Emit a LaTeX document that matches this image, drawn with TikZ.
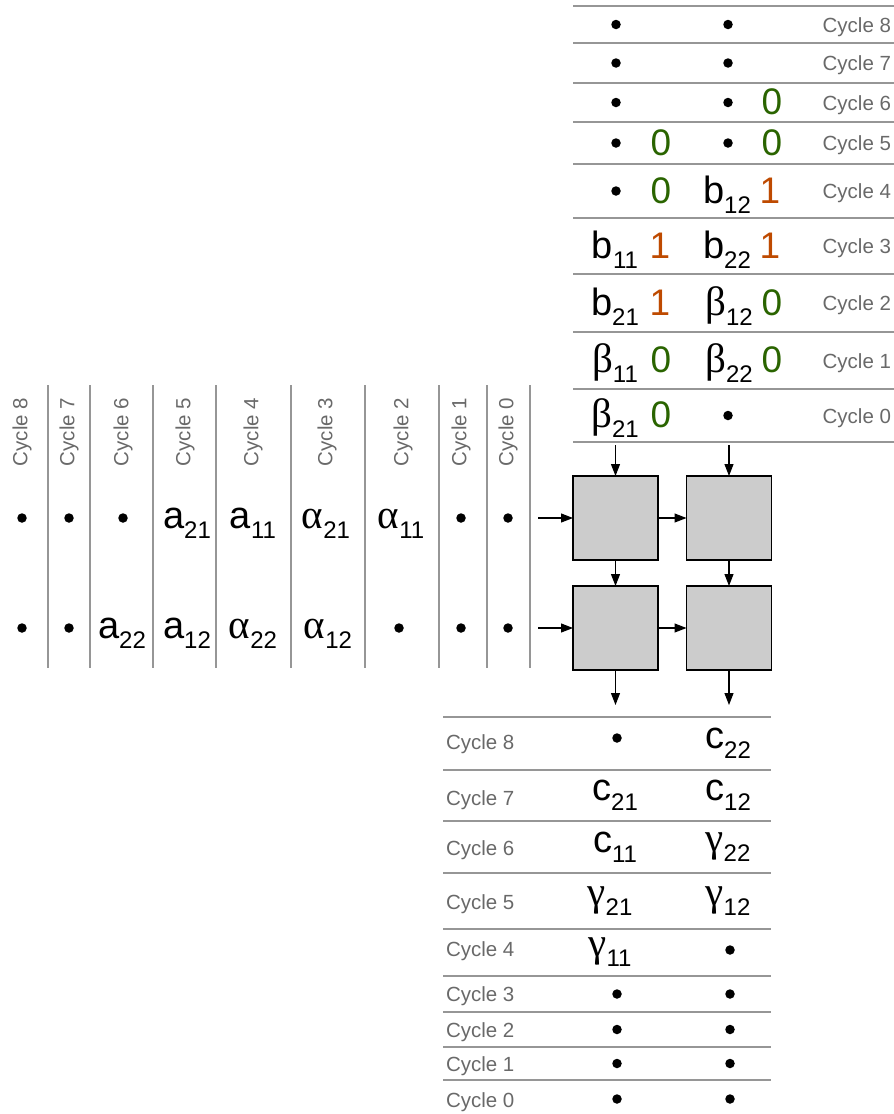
\documentclass[tikz,border=0pt]{standalone}
\usepackage{fontspec}
\setmainfont{Liberation Sans}
\newfontfamily\greekfont{Liberation Serif}
\usetikzlibrary{arrows.meta}

\definecolor{zerogreen}{RGB}{42,100,0}
\definecolor{oneorange}{RGB}{190,74,0}
\definecolor{labelgray}{RGB}{105,105,105}
\definecolor{rulegray}{RGB}{150,150,150}
\definecolor{pefill}{RGB}{204,204,204}

% value with lowered index
\newcommand{\ent}[2]{#1\raisebox{-10pt}{\fontsize{24}{24}\selectfont #2}}
\newcommand{\gr}[1]{{\greekfont\fontsize{41}{41}\selectfont #1}}

\begin{document}
\begin{tikzpicture}[x=1pt, y=-1pt,
	every node/.style={inner sep=0pt, outer sep=0pt},
	cyc/.style={font=\fontsize{20.5}{20.5}\selectfont, text=labelgray},
	entry/.style={anchor=base, font=\fontsize{38}{38}\selectfont},
	zero/.style={entry, text=zerogreen, font=\fontsize{37}{37}\selectfont},
	one/.style={entry, text=oneorange, font=\fontsize{37}{37}\selectfont},
	blob/.style={circle, fill=black, minimum size=9.5pt},
	gridline/.style={draw=rulegray, line width=1.2pt},
	pe/.style={draw, fill=pefill, line width=1.1pt, minimum width=85pt, minimum height=84pt},
	link/.style={-{Triangle[length=12pt,width=9pt]}, line width=1.1pt}]
	\useasboundingbox (0,0) rectangle (894,1114);

	% Top table (B)
	\foreach \y in {6,43,83,122,164,218,274,332,389,442}
		\draw[gridline] (573,\y) -- (894,\y);
	\foreach \c/\y in {8/32,7/70.5,6/110,5/150.5,4/198.5,3/253.5,2/310.5,1/368,0/423}
		\node[cyc, anchor=base east] (tl\c) at (891,\y) {Cycle \c};
	\foreach \n/\x/\y in {a/616/24.5,b/728/24.5,c/616/63,d/728/63,e/616/102.5,f/728/102.5,
		g/616/143,h/728/143,i/616/191,j/728/415.5}
		\node[blob] (td\n) at (\x,\y) {};
	\node[zero] (tz6b) at (772,114.5) {0};
	\node[zero] (tz5a) at (661,155) {0};
	\node[zero] (tz5b) at (772,155) {0};
	\node[zero] (tz4a) at (661,203) {0};
	\node[one] (to4b) at (770,203) {1};
	\node[entry] (b12) at (727,203) {\ent{b}{12}};
	\node[entry] (b11) at (615,258) {\ent{b}{11}};
	\node[one] (to3a) at (660,258) {1};
	\node[entry] (b22) at (727,258) {\ent{b}{22}};
	\node[one] (to3b) at (770,258) {1};
	\node[entry] (b21) at (615,315) {\ent{b}{21}};
	\node[one] (to2a) at (660,315) {1};
	\node[entry] (beta12) at (729,315) {\ent{\gr{β}}{12}};
	\node[zero] (tz2b) at (772,315) {0};
	\node[entry] (beta11) at (615,372) {\ent{\gr{β}}{11}};
	\node[zero] (tz1a) at (661,372) {0};
	\node[entry] (beta22) at (729,372) {\ent{\gr{β}}{22}};
	\node[zero] (tz1b) at (772,372) {0};
	\node[entry] (beta21) at (615,427.5) {\ent{\gr{β}}{21}};
	\node[zero] (tz0a) at (661,427.5) {0};

	% Left table (A)
	\foreach \x in {48,90,153,216,291,365,439,487,530}
		\draw[gridline] (\x,385) -- (\x,668);
	\foreach \c/\x in {8/22,7/69,6/123,5/185,4/253,3/327,2/403,1/461,0/508}
		\node[cyc, rotate=90] (ll\c) at (\x,432) {Cycle \c};
	\foreach \n/\x/\y in {a/22/518,b/69/518,c/123/518,d/461/518,e/508/518,
		f/22/628,g/69/628,h/399/628,i/461/628,j/508/628}
		\node[blob] (ld\n) at (\x,\y) {};
	\node[entry] (a21) at (187,528) {\ent{a}{21}};
	\node[entry] (a11) at (253,528) {\ent{a}{11}};
	\node[entry] (alpha21) at (326,528) {\ent{\gr{α}}{21}};
	\node[entry] (alpha11) at (401,528) {\ent{\gr{α}}{11}};
	\node[entry] (a22) at (122,638) {\ent{a}{22}};
	\node[entry] (a12) at (187,638) {\ent{a}{12}};
	\node[entry] (alpha22) at (253,638) {\ent{\gr{α}}{22}};
	\node[entry] (alpha12) at (328,638) {\ent{\gr{α}}{12}};

	% Processing elements
	\node[pe] (pe11) at (615.5,518) {};
	\node[pe] (pe12) at (729,518) {};
	\node[pe] (pe21) at (615.5,628) {};
	\node[pe] (pe22) at (729,628) {};
	\coordinate (inB1) at (615.5,445);
	\coordinate (inB2) at (729,445);
	\coordinate (inA1) at (538,518);
	\coordinate (inA2) at (538,628);
	\coordinate (outC1) at (615.5,705);
	\coordinate (outC2) at (729,705);

	% Links
	\draw[link] (inB1) -- (pe11.north);
	\draw[link] (inB2) -- (pe12.north);
	\draw[link] (inA1) -- (pe11.west);
	\draw[link] (inA2) -- (pe21.west);
	\draw[link] (pe11.east) -- (pe12.west);
	\draw[link] (pe21.east) -- (pe22.west);
	\draw[link] (pe11.south) -- (pe21.north);
	\draw[link] (pe12.south) -- (pe22.north);
	\draw[link] (pe21.south) -- (outC1);
	\draw[link] (pe22.south) -- (outC2);

	% Bottom table (C)
	\foreach \y in {717,770,821,873,929,976,1012,1047,1080}
		\draw[gridline] (443,\y) -- (771,\y);
	\foreach \c/\y in {8/749.5,7/805,6/855,5/909.5,4/956,3/1001.5,2/1037,1/1071,0/1107.5}
		\node[cyc, anchor=base west] (bl\c) at (446,\y) {Cycle \c};
	\foreach \n/\x/\y in {a/617/738,b/730/950,c/617/994,d/730/994,e/617/1029.5,f/730/1029.5,
		g/617/1063.5,h/730/1063.5,i/617/1099,j/730/1099}
		\node[blob] (bd\n) at (\x,\y) {};
	\node[entry, anchor=center] (c22) at (728,743.5) {\ent{c}{22}};
	\node[entry, anchor=center] (c21) at (615,795.5) {\ent{c}{21}};
	\node[entry, anchor=center] (c12) at (728,795.5) {\ent{c}{12}};
	\node[entry, anchor=center] (c11) at (615,847) {\ent{c}{11}};
	\node[entry, anchor=center] (gamma22) at (728,847) {\ent{\gr{γ}}{22}};
	\node[entry, anchor=center] (gamma21) at (610,901) {\ent{\gr{γ}}{21}};
	\node[entry, anchor=center] (gamma12) at (728,901) {\ent{\gr{γ}}{12}};
	\node[entry, anchor=center] (gamma11) at (610,952.5) {\ent{\gr{γ}}{11}};
\end{tikzpicture}
\end{document}
